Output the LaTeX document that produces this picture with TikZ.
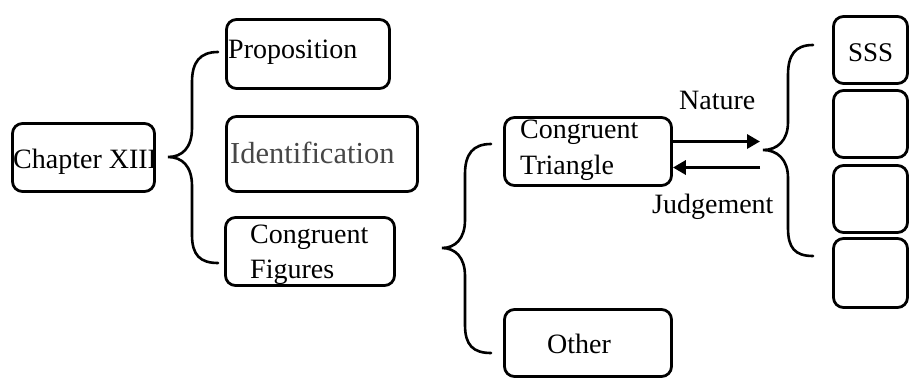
\documentclass[tikz,border=0pt]{standalone}
\usepackage{fontspec}
\setmainfont{Liberation Serif}
\usetikzlibrary{arrows.meta}

\tikzset{
  box/.style={draw, rectangle, rounded corners=10pt, line width=2.8pt, inner sep=0pt},
  txt/.style={inner sep=0pt, anchor=base west, align=left, font=\fontsize{28}{35.5}\selectfont},
  brace/.style={line width=2.6pt, line cap=round},
  arr/.style={line width=3.4pt, -{Triangle[length=13pt,width=14pt]}},
}

\begin{document}
\begin{tikzpicture}[x=1pt,y=-1pt]
\useasboundingbox (0,0) rectangle (910,381);

% boxes of the outline
\node[box, minimum width=142pt, minimum height=68pt] (chap)  at (83.5,157.5) {};
\node[box, minimum width=163pt, minimum height=69pt] (prop)  at (308,54) {};
\node[box, minimum width=191pt, minimum height=75pt] (ident) at (322,154) {};
\node[box, minimum width=169pt, minimum height=68pt] (figs)  at (310,251.5) {};
\node[box, minimum width=167pt, minimum height=68pt] (tri)   at (588,151.5) {};
\node[box, minimum width=167pt, minimum height=67pt] (other) at (588,343) {};
\node[box, minimum width=74pt,  minimum height=67pt] (sss)   at (870.5,50) {};
\node[box, minimum width=74pt,  minimum height=67pt] (rb)    at (870.5,124) {};
\node[box, minimum width=74pt,  minimum height=67pt] (rc)    at (870.5,199) {};
\node[box, minimum width=74pt,  minimum height=69pt] (rd)    at (870.5,273) {};

% labels (two-line labels are anchored on the baseline of their last line)
\node[txt] (tchap)  at (13,168)  {Chapter XIII};
\node[txt] (tprop)  at (228,58)  {Proposition};
\node[txt, font=\fontsize{30.5}{36}\selectfont, text=black!72] (tident) at (230,163) {Identification};
\node[txt] (tfigs)  at (250,278.5) {Congruent\\Figures};
\node[txt] (ttri)   at (520,174) {Congruent\\Triangle};
\node[txt] (tother) at (547,353) {Other};
\node[txt] (tnat)   at (679,109) {Nature};
\node[txt] (tjud)   at (652,213) {Judgement};
\node[txt, font=\fontsize{27}{32}\selectfont] (tsss) at (848,61) {SSS};

% arrows between the triangle box and the criteria
\coordinate (natend) at (760,141.5);
\coordinate (judstart) at (760,167.5);
\draw[arr] (tri.east |- natend) -- (natend);
\draw[arr] (judstart) -- (tri.east |- judstart);

% braces
\draw[brace] (218,52) .. controls (200,52) and (192,62) .. (192,82)
  -- (192,128) .. controls (192,148) and (182,157) .. (168,157)
  .. controls (182,157) and (192,166) .. (192,186)
  -- (192,235) .. controls (192,255) and (200,263) .. (218,263);

\draw[brace] (491,144) .. controls (473,144) and (465,154) .. (465,174)
  -- (465,220) .. controls (465,239) and (455,248) .. (442,248)
  .. controls (455,248) and (465,257) .. (465,276)
  -- (465,325) .. controls (465,345) and (473,353) .. (491,353);

\draw[brace] (813,45) .. controls (795,45) and (788,55) .. (788,75)
  -- (788,122) .. controls (788,141) and (777,150) .. (763,150)
  .. controls (777,150) and (788,159) .. (788,178)
  -- (788,228) .. controls (788,248) and (795,256) .. (813,256);
\end{tikzpicture}
\end{document}
